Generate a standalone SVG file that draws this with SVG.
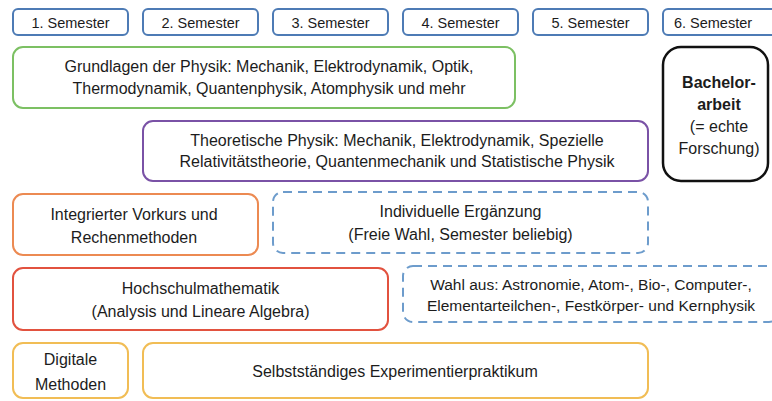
<svg xmlns="http://www.w3.org/2000/svg" width="772" height="401" viewBox="0 0 772 401">
<style>
text{font-family:"Liberation Sans",Arial,sans-serif;font-size:16px;fill:#1c1c1c;text-anchor:middle}
.s{font-size:14.5px}
.b{font-weight:bold}
.w{font-size:15.5px}
rect{fill:#fff;stroke-width:2}
.sem{stroke:#4d7bb5}
.grn{stroke:#7cc063}
.pur{stroke:#7a52a6}
.org{stroke:#ec8a52}
.red{stroke:#e2523f}
.yel{stroke:#f1bd55}
.dash{stroke:#6d9ccc;stroke-dasharray:9 6}
.blk{stroke:#111;stroke-width:2.5}
</style>
<rect width="772" height="401" fill="#fff" stroke="none"/>
<g id="sem1"><rect class="sem" x="13" y="9" width="115" height="26" rx="5"/><text class="s" x="70.5" y="28">1. Semester</text></g>
<g id="sem2"><rect class="sem" x="143" y="9" width="115" height="26" rx="5"/><text class="s" x="200.5" y="28">2. Semester</text></g>
<g id="sem3"><rect class="sem" x="273" y="9" width="115" height="26" rx="5"/><text class="s" x="330.5" y="28">3. Semester</text></g>
<g id="sem4"><rect class="sem" x="403" y="9" width="115" height="26" rx="5"/><text class="s" x="460.5" y="28">4. Semester</text></g>
<g id="sem5"><rect class="sem" x="533" y="9" width="115" height="26" rx="5"/><text class="s" x="590.5" y="28">5. Semester</text></g>
<g id="sem6"><rect class="sem" x="663" y="9" width="115" height="26" rx="5"/><text class="s" x="713" y="28">6. Semester</text></g>
<g id="grundlagen"><rect class="grn" x="13" y="47" width="502" height="61" rx="10"/>
<text x="269" y="72">Grundlagen der Physik: Mechanik, Elektrodynamik, Optik,</text>
<text x="269" y="94">Thermodynamik, Quantenphysik, Atomphysik und mehr</text></g>
<g id="bachelor"><rect class="blk" x="663" y="47" width="105" height="134" rx="18"/>
<text class="b" x="719" y="88">Bachelor-</text>
<text class="b" x="719" y="110">arbeit</text>
<text x="719" y="132">(= echte</text>
<text x="719" y="154">Forschung)</text></g>
<g id="theoretisch"><rect class="pur" x="143" y="121" width="505" height="60" rx="10"/>
<text x="397" y="146">Theoretische Physik: Mechanik, Elektrodynamik, Spezielle</text>
<text x="397" y="167">Relativitätstheorie, Quantenmechanik und Statistische Physik</text></g>
<g id="vorkurs"><rect class="org" x="13" y="194" width="245" height="61" rx="10"/>
<text x="134" y="220">Integrierter Vorkurs und</text>
<text x="134" y="243">Rechenmethoden</text></g>
<g id="ergaenzung"><rect class="dash" x="273" y="192" width="375" height="61" rx="10"/>
<text x="460.5" y="217">Individuelle Ergänzung</text>
<text x="460.5" y="240">(Freie Wahl, Semester beliebig)</text></g>
<g id="mathe"><rect class="red" x="13" y="268" width="375" height="62" rx="10"/>
<text x="200.5" y="294">Hochschulmathematik</text>
<text x="200.5" y="317">(Analysis und Lineare Algebra)</text></g>
<g id="wahl"><rect class="dash" x="403" y="266" width="376" height="56" rx="10"/>
<text class="w" x="591" y="290">Wahl aus: Astronomie, Atom-, Bio-, Computer-,</text>
<text class="w" x="591" y="311">Elementarteilchen-, Festkörper- und Kernphysik</text></g>
<g id="digital"><rect class="yel" x="13" y="343" width="115" height="55" rx="10"/>
<text x="70.5" y="365">Digitale</text>
<text x="70.5" y="390">Methoden</text></g>
<g id="praktikum"><rect class="yel" x="143" y="343" width="505" height="55" rx="10"/>
<text x="395" y="377">Selbstständiges Experimentierpraktikum</text></g>
<g id="connectors"></g>
</svg>
